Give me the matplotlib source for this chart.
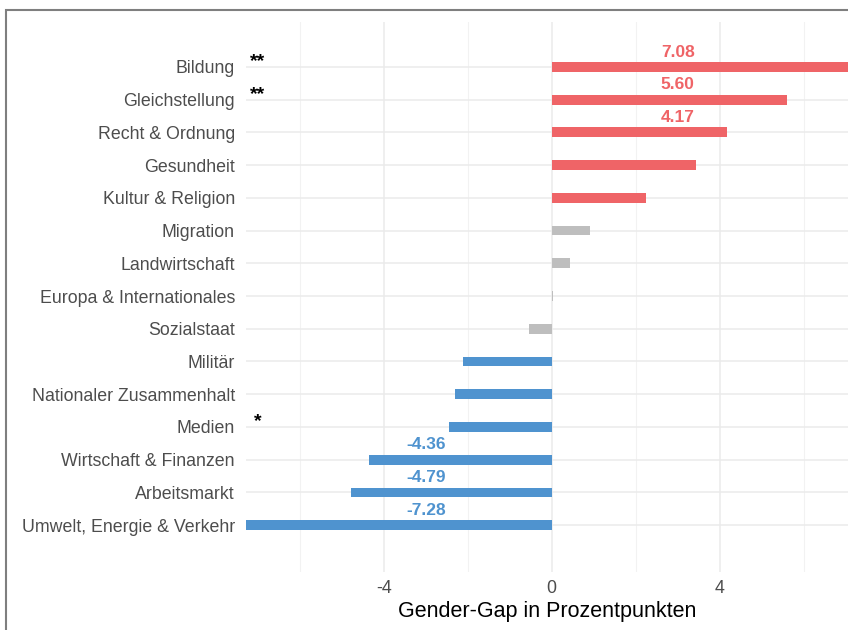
import matplotlib
matplotlib.use('Agg')
import matplotlib.pyplot as plt
from matplotlib.patches import Rectangle

categories = ["Bildung", "Gleichstellung", "Recht & Ordnung", "Gesundheit",
              "Kultur & Religion", "Migration", "Landwirtschaft",
              "Europa & Internationales", "Sozialstaat", "Militär",
              "Nationaler Zusammenhalt", "Medien", "Wirtschaft & Finanzen",
              "Arbeitsmarkt", "Umwelt, Energie & Verkehr"]
gaps = [7.08, 5.60, 4.17, 3.44, 2.24, 0.91, 0.43, 0.04, -0.55, -2.11,
        -2.31, -2.45, -4.36, -4.79, -7.28]
groups = ["pos", "pos", "pos", "pos", "pos", "ns", "ns", "ns", "ns", "neg",
          "neg", "neg", "neg", "neg", "neg"]
stars = ["**", "**", "", "", "", "", "", "", "", "", "", "*", "", "", ""]
shown_labels = ["7.08", "5.60", "4.17", "", "", "", "", "", "", "", "", "",
                "-4.36", "-4.79", "-7.28"]

colors = {"pos": "#EF6467", "ns": "#BEBEBE", "neg": "#4F93CF"}

plt.rcParams['font.family'] = ['Liberation Sans', 'DejaVu Sans']

fig = plt.figure(figsize=(8.48, 6.30), dpi=100)
ax = fig.add_axes([246 / 848, 1 - 572 / 630, 603 / 848, 550 / 630])

n = len(categories)
ypos = [n - 1 - i for i in range(n)]

ax.barh(ypos, gaps, height=0.3, color=[colors[g] for g in groups], zorder=3)

for y, v, g, lab, st in zip(ypos, gaps, groups, shown_labels, stars):
    if lab:
        xl = 3.0 if v > 0 else -3.0
        ax.text(xl, y + 0.45, lab, ha='center', va='center', fontsize=12.5,
                fontweight='bold', color=colors[g], zorder=4)
    if st:
        ax.text(-7.0, y + 0.15, st, ha='center', va='center', fontsize=14,
                fontweight='bold', color='black', zorder=4)

ax.set_xlim(-7.28, 7.08)
ax.set_ylim(-1.43, n - 1 + 1.37)
ax.set_yticks(ypos)
ax.set_yticklabels(categories)
ax.set_xticks([-4, 0, 4])
ax.set_xticklabels(["-4", "0", "4"])
ax.set_xticks([-6, -2, 2, 6], minor=True)

ax.grid(True, which='major', color='#EBEBEB', linewidth=1.1, zorder=0)
ax.grid(True, which='minor', axis='x', color='#F2F2F2', linewidth=0.8, zorder=0)
ax.set_axisbelow(True)
for s in ax.spines.values():
    s.set_visible(False)
ax.tick_params(axis='both', length=0, labelsize=12.8, colors='#4D4D4D', pad=8)
ax.tick_params(axis='x', pad=6)
ax.tick_params(axis='x', which='minor', length=0)
ax.set_xlabel("Gender-Gap in Prozentpunkten", fontsize=15.5, color='black', labelpad=3)

# outer frame (partly cut off at right and bottom)
fig.patches.append(Rectangle((6 / 848, -0.1), 1.2, 1 - 10 / 630 + 0.1,
                             transform=fig.transFigure, fill=False,
                             edgecolor='#7F7F7F', linewidth=1.5, zorder=10))

fig.savefig("out.png", dpi=100)
